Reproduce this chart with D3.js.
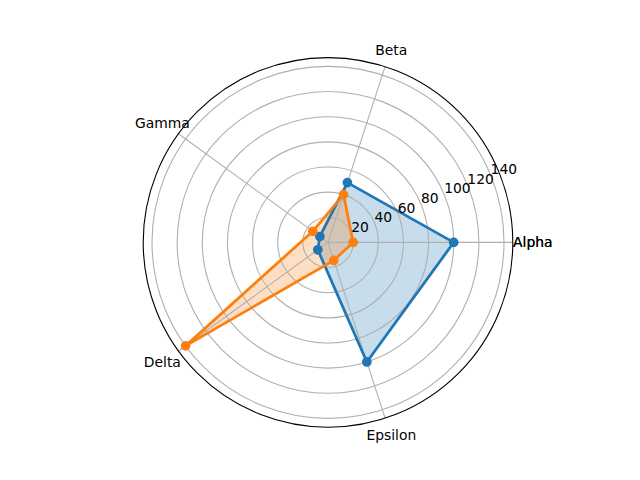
<!DOCTYPE html>
<html>
<head>
<meta charset="utf-8">
<script src="https://cdn.jsdelivr.net/npm/d3@7"></script>
<style>
  html, body { margin: 0; padding: 0; background: #fff; }
  svg { display: block; }
  text { font-family: "DejaVu Sans", sans-serif; }
</style>
</head>
<body>
<script>
// ---- data ----
const categories = ["Alpha", "Beta", "Gamma", "Delta", "Epsilon"];
const seriesA = [100, 50, 8, 10, 100];
const seriesB = [20, 40, 15, 140, 15];
const rTicks = [20, 40, 60, 80, 100, 120, 140];
const thetaTickLabels = ["Alpha", "Beta", "Gamma", "Delta", "Epsilon", "Alpha"];
const seriesColors = ["#1f77b4", "#ff7f0e"];

// ---- layout ----
const W = 640, H = 480;
const cx = 328, cy = 242.4, R = 184.8;
const pt = 100 / 72;

const svg = d3.select("body").append("svg").attr("width", W).attr("height", H);
const g = svg.append("g").attr("transform", `translate(${cx},${cy})`);

const n = categories.length;
const rMax = d3.max([...seriesA, ...seriesB]) * 1.05;
const r = d3.scaleLinear().domain([0, rMax]).range([0, R]);
// matplotlib theta (ccw from east) in radians by index
const theta = d3.scaleLinear().domain([0, n]).range([0, 2 * Math.PI]);
// convert to d3 radial angle (clockwise from north)
const d3ang = t => Math.PI / 2 - t;
const px = (t, rr) => [Math.cos(t) * rr, -Math.sin(t) * rr];

const seriesList = [seriesA, seriesB];

const radial = d3.lineRadial()
  .angle((d, i) => d3ang(theta(i)))
  .radius(d => r(d))
  .curve(d3.curveLinearClosed);

// fills (zorder 1)
seriesList.forEach((s, k) => {
  g.append("path")
    .attr("d", radial(s))
    .attr("fill", seriesColors[k])
    .attr("fill-opacity", 0.25)
    .attr("stroke", "none");
});

// grid circles
g.selectAll("circle.grid").data(rTicks).enter().append("circle")
  .attr("class", "grid")
  .attr("r", d => r(d))
  .attr("fill", "none")
  .attr("stroke", "#b0b0b0")
  .attr("stroke-width", 0.8 * pt);

// spokes
g.selectAll("line.spoke").data(d3.range(n)).enter().append("line")
  .attr("class", "spoke")
  .attr("x1", 0).attr("y1", 0)
  .attr("x2", i => px(theta(i), R)[0])
  .attr("y2", i => px(theta(i), R)[1])
  .attr("stroke", "#b0b0b0")
  .attr("stroke-width", 0.8 * pt);

// lines + markers (zorder 2)
seriesList.forEach((s, k) => {
  g.append("path")
    .attr("d", radial(s))
    .attr("fill", "none")
    .attr("stroke", seriesColors[k])
    .attr("stroke-width", 2 * pt)
    .attr("stroke-linejoin", "round");
  g.selectAll(null).data(s).enter().append("circle")
    .attr("cx", (d, i) => px(theta(i), r(d))[0])
    .attr("cy", (d, i) => px(theta(i), r(d))[1])
    .attr("r", 3 * pt)
    .attr("fill", seriesColors[k])
    .attr("stroke", seriesColors[k])
    .attr("stroke-width", 1 * pt);
});

// outer spine
g.append("circle")
  .attr("r", R)
  .attr("fill", "none")
  .attr("stroke", "#000")
  .attr("stroke-width", 0.8 * pt);

// theta tick labels
g.selectAll("text.theta").data(thetaTickLabels).enter().append("text")
  .attr("class", "theta")
  .attr("x", (d, i) => px(theta(i), R + 20)[0])
  .attr("y", (d, i) => px(theta(i), R + 18)[1])
  .attr("text-anchor", "middle")
  .attr("dominant-baseline", "central")
  .attr("font-size", 10 * pt)
  .attr("fill", "#000")
  .text(d => d);

// radial tick labels at 22.5 degrees
const rlAng = 22.5 * Math.PI / 180;
g.selectAll("text.rtick").data(rTicks).enter().append("text")
  .attr("class", "rtick")
  .attr("x", d => px(rlAng, r(d))[0])
  .attr("y", d => px(rlAng, r(d))[1] - 1)
  .attr("text-anchor", "start")
  .attr("font-size", 10 * pt)
  .attr("fill", "#000")
  .text(d => d);
</script>
</body>
</html>
